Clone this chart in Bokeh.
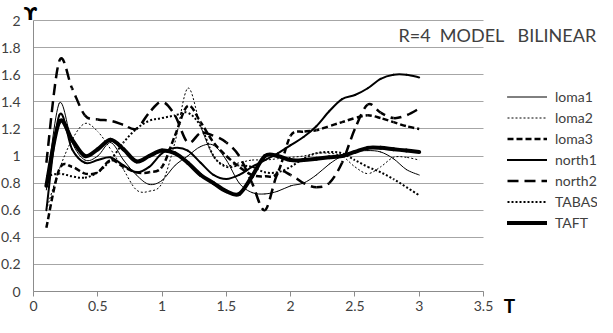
import math
from bokeh.plotting import figure
from bokeh.models import Range1d, FixedTicker, Legend, LegendItem, Label, Grid, ColumnDataSource
from bokeh.embed import file_html
from bokeh.resources import INLINE

T = [0.1, 0.2, 0.3, 0.4, 0.5, 0.6, 0.7, 0.8, 0.9, 1.0,
     1.1, 1.2, 1.3, 1.4, 1.5, 1.6, 1.7, 1.8, 1.9, 2.0,
     2.1, 2.2, 2.3, 2.4, 2.5, 2.6, 2.7, 2.8, 2.9, 3.0]

loma1 = [0.75, 1.39, 1.10, 0.97, 1.00, 1.10, 0.97, 0.86, 0.79, 0.82,
         0.93, 1.00, 1.07, 1.08, 0.97, 0.80, 0.73, 0.72, 0.74, 0.78,
         0.80, 0.86, 0.94, 1.00, 1.03, 1.04, 1.03, 0.98, 0.90, 0.86]
loma2 = [0.60, 0.90, 1.12, 1.24, 1.18, 1.05, 0.90, 0.75, 0.74, 0.80,
         1.10, 1.50, 1.22, 1.00, 0.93, 0.95, 0.97, 0.97, 0.98, 0.99,
         1.00, 1.02, 1.02, 1.00, 0.92, 0.87, 0.92, 0.99, 0.99, 0.97]
loma3 = [0.47, 0.90, 0.92, 0.87, 0.88, 0.97, 0.92, 0.88, 0.88, 0.92,
         1.15, 1.37, 1.25, 1.10, 1.00, 0.92, 0.86, 0.85, 0.88, 1.15,
         1.18, 1.19, 1.22, 1.25, 1.28, 1.30, 1.28, 1.25, 1.22, 1.20]
north1 = [0.60, 1.30, 1.05, 0.95, 0.97, 0.99, 0.93, 0.88, 0.92, 1.02,
          1.06, 1.04, 0.95, 0.86, 0.83, 0.86, 0.92, 0.97, 1.02, 1.08,
          1.14, 1.22, 1.33, 1.42, 1.45, 1.50, 1.57, 1.60, 1.60, 1.58]
north2 = [0.95, 1.70, 1.50, 1.30, 1.27, 1.26, 1.23, 1.20, 1.32, 1.40,
          1.30, 1.10, 1.17, 1.15, 1.10, 1.00, 0.80, 0.60, 0.87, 0.86,
          0.80, 0.77, 0.80, 0.95, 1.20, 1.38, 1.32, 1.28, 1.30, 1.35]
TABAS = [0.85, 0.87, 0.85, 0.84, 0.88, 0.97, 1.10, 1.20, 1.26, 1.28,
         1.30, 1.32, 1.22, 1.00, 0.92, 0.93, 0.92, 0.88, 0.88, 0.92,
         0.98, 1.02, 1.03, 1.02, 0.97, 0.92, 0.88, 0.83, 0.77, 0.71]
TAFT = [0.78, 1.25, 1.12, 1.00, 1.05, 1.12, 1.05, 0.96, 1.00, 1.04,
        1.02, 0.95, 0.86, 0.80, 0.74, 0.72, 0.85, 1.00, 1.00, 0.97,
        0.97, 0.98, 0.99, 1.00, 1.03, 1.06, 1.06, 1.05, 1.04, 1.03]

x_ticks = [0, 0.5, 1, 1.5, 2, 2.5, 3, 3.5]
x_tick_labels = ["0", "0.5", "1", "1.5", "2", "2.5", "3", "3.5"]
y_ticks = [0, 0.2, 0.4, 0.6, 0.8, 1, 1.2, 1.4, 1.6, 1.8, 2]
y_tick_labels = ["0", "0.2", "0.4", "0.6", "0.8", "1", "1.2", "1.4", "1.6", "1.8", "2"]

title_text = "R=4\u00a0\u00a0MODEL\u00a0\u00a0\u00a0BILINEAR"
FONT = "Lato"
TXT = "#404040"
GRID = "#a6a6a6"
AXIS = "#8c8c8c"

# layout: the frame fills the whole figure; axes are pinned at 0
W, H = 597, 317
X0_PX, XSCALE = 33, 128.57   # screen x of T=0, px per unit
Y0_PX, YSCALE = 26, 135.5    # px from bottom of Y=0, px per unit


def smooth_source(xs, ys, period):
    """Excel-style smoothed line: one cubic Bezier per pair of neighbouring points,
    with the dash offset carried along so dashes run continuously."""
    n = len(xs)
    d = {k: [] for k in ("x0", "y0", "x1", "y1", "cx0", "cy0", "cx1", "cy1", "off")}
    run = 0.0
    for i in range(n - 1):
        ia, ib, ic, idd = max(i - 1, 0), i, i + 1, min(i + 2, n - 1)
        c0x = xs[ib] + (xs[ic] - xs[ia]) / 6
        c0y = ys[ib] + (ys[ic] - ys[ia]) / 6
        c1x = xs[ic] - (xs[idd] - xs[ib]) / 6
        c1y = ys[ic] - (ys[idd] - ys[ib]) / 6
        d["x0"].append(xs[ib]); d["y0"].append(ys[ib])
        d["x1"].append(xs[ic]); d["y1"].append(ys[ic])
        d["cx0"].append(c0x); d["cy0"].append(c0y)
        d["cx1"].append(c1x); d["cy1"].append(c1y)
        d["off"].append(int(round(run)) % period if period else 0)
        pts = [(xs[ib], ys[ib]), (c0x, c0y), (c1x, c1y), (xs[ic], ys[ic])]
        poly = sum(math.hypot((pts[k + 1][0] - pts[k][0]) * XSCALE,
                              (pts[k + 1][1] - pts[k][1]) * YSCALE) for k in range(3))
        chord = math.hypot((xs[ic] - xs[ib]) * XSCALE, (ys[ic] - ys[ib]) * YSCALE)
        run += (poly + chord) / 2
    return ColumnDataSource(d)


p = figure(width=W, height=H, output_backend="svg", toolbar_location=None,
           x_range=Range1d(-X0_PX / XSCALE, (W - X0_PX) / XSCALE),
           y_range=Range1d(-Y0_PX / YSCALE, (H - Y0_PX) / YSCALE),
           min_border=0)
p.outline_line_color = None
p.background_fill_color = "white"
p.xgrid.grid_line_color = None
p.ygrid.ticker = FixedTicker(ticks=y_ticks)
p.ygrid.grid_line_color = GRID
p.ygrid.grid_line_width = 1
if "cross_bounds" in Grid.properties():
    p.ygrid.cross_bounds = (x_ticks[0], x_ticks[-1])

p.xaxis.ticker = FixedTicker(ticks=x_ticks)
p.xaxis.major_label_overrides = {t: l for t, l in zip(x_ticks, x_tick_labels)}
p.xaxis.bounds = (x_ticks[0], x_ticks[-1])
p.xaxis.fixed_location = 0
p.yaxis.ticker = FixedTicker(ticks=y_ticks)
p.yaxis.major_label_overrides = {t: l for t, l in zip(y_ticks, y_tick_labels)}
p.yaxis.bounds = (y_ticks[0], y_ticks[-1])
p.yaxis.fixed_location = 0

for ax in (p.xaxis, p.yaxis):
    ax.axis_line_color = AXIS
    ax.major_tick_line_color = AXIS
    ax.minor_tick_line_color = None
    ax.major_tick_in = 0
    ax.major_label_text_font = FONT
    ax.major_label_text_font_size = "14px"
    ax.major_label_text_color = TXT
p.xaxis.major_tick_out = 5
p.xaxis.major_label_standoff = 4
p.yaxis.major_tick_out = 0
p.yaxis.major_label_standoff = 13

# name, values, width, dash, dash period
series = [
    ("loma1", loma1, 1, "solid", 0),
    ("loma2", loma2, 1, "2 2", 4),
    ("loma3", loma3, 2.5, "6 3", 9),
    ("north1", north1, 2, "solid", 0),
    ("north2", north2, 2.5, "11 6", 17),
    ("TABAS", TABAS, 2, "2 2", 4),
    ("TAFT", TAFT, 4, "solid", 0),
]

items = []
for name, ys, lw, dash, period in series:
    src = smooth_source(T, ys, period)
    r = p.bezier(x0="x0", y0="y0", x1="x1", y1="y1", cx0="cx0", cy0="cy0",
                 cx1="cx1", cy1="cy1", source=src, line_color="black", line_width=lw,
                 line_dash=dash, line_dash_offset="off",
                 line_cap="round" if period == 0 else "butt")
    items.append(LegendItem(label=name, renderers=[r], index=0))

legend = Legend(items=items, location=(507, 84), glyph_width=40, glyph_height=21,
                label_height=21, spacing=0, padding=0, margin=0, label_standoff=8,
                border_line_color=None, background_fill_alpha=0,
                label_text_font=FONT, label_text_font_size="14px", label_text_color=TXT)
p.add_layout(legend)

p.add_layout(Label(x=398, y=283, x_units="screen", y_units="screen", text=title_text,
                   text_font=FONT, text_font_size="18px", text_color=TXT,
                   text_baseline="middle", text_align="left"))
p.add_layout(Label(x=30, y=H - 2, x_units="screen", y_units="screen", text="\u03d2",
                   text_font="DejaVu Sans", text_font_size="18px", text_font_style="bold",
                   text_color="black", text_baseline="top", text_align="center"))
p.add_layout(Label(x=509, y=1, x_units="screen", y_units="screen", text="T",
                   text_font=FONT, text_font_size="19px", text_font_style="bold",
                   text_color="black", text_baseline="bottom", text_align="center"))

open("out.html", "w").write(file_html(p, INLINE))
